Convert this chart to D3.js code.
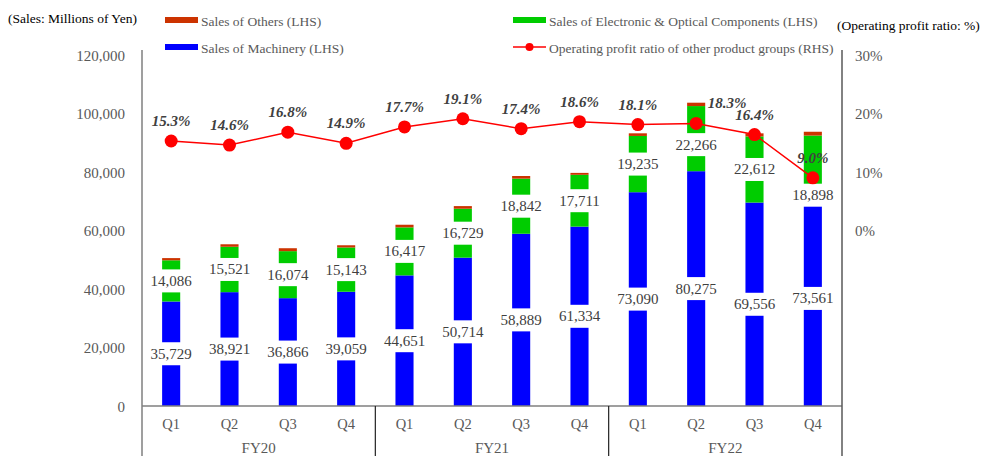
<!DOCTYPE html>
<html>
<head>
  <meta charset="utf-8">
  <style>
    body { margin: 0; background: #fff; }
    svg { display: block; font-family: "Liberation Serif", "Times New Roman", serif; }
    .tick text { fill: #595959; font-size: 15px; }
  </style>
</head>
<body>
<div id="chart"></div>
<script src="https://d3js.org/d3.v7.min.js"></script>
<script>
  // values
  const fiscalYears = ["FY20", "FY21", "FY22"];
  const quarters = ["Q1", "Q2", "Q3", "Q4"];
  const machinery = [35729, 38921, 36866, 39059, 44651, 50714, 58889, 61334, 73090, 80275, 69556, 73561];
  const electronic = [14086, 15521, 16074, 15143, 16417, 16729, 18842, 17711, 19235, 22266, 22612, 18898];
  const others = [750, 850, 1000, 750, 900, 900, 900, 650, 900, 1150, 1050, 1300];
  const profitRatio = [15.3, 14.6, 16.8, 14.9, 17.7, 19.1, 17.4, 18.6, 18.1, 18.3, 16.4, 9.0];
  const leftTicks = [0, 20000, 40000, 60000, 80000, 100000, 120000];
  const rightTicks = [0, 10, 20, 30];

  const categories = [];
  fiscalYears.forEach(fy => quarters.forEach(q => categories.push(fy + " " + q)));

  const rows = categories.map((c, i) => ({
    cat: c, machinery: machinery[i], electronic: electronic[i], others: others[i], ratio: profitRatio[i]
  }));

  const width = 985, height = 456;
  const mLeft = 142, mRight = 842, mTop = 55, mBottom = 406;
  const serif = '"Liberation Serif", "Times New Roman", serif';

  const svg = d3.select('#chart').append('svg')
    .attr('width', width)
    .attr('height', height);

  const x = d3.scaleBand()
    .domain(categories)
    .range([mLeft, mRight])
    .paddingInner(0.69)
    .paddingOuter(0.345);

  const yL = d3.scaleLinear().domain([0, 120000]).range([mBottom, mTop]);
  const yR = d3.scaleLinear().domain([-30, 30]).range([mBottom, mTop]);

  const colors = { machinery: "#0000ff", electronic: "#00cc00", others: "#cc3300" };

  // bars
  const stack = d3.stack().keys(["machinery", "electronic", "others"]);
  const series = stack(rows);

  svg.append('g')
    .selectAll('g')
    .data(series)
    .enter()
    .append('g')
    .attr('fill', d => colors[d.key])
    .selectAll('rect')
    .data(d => d)
    .enter()
    .append('rect')
    .attr('x', d => x(d.data.cat))
    .attr('width', x.bandwidth())
    .attr('y', d => yL(d[1]))
    .attr('height', d => yL(d[0]) - yL(d[1]));

  // value labels with white boxes
  const labelG = svg.append('g');
  series.slice(0, 2).forEach(s => {
    s.forEach((d, i) => {
      let cy = (yL(d[0]) + yL(d[1])) / 2;
      if (s.key === "electronic" && i === 9) cy += 6;
      if (s.key === "electronic" && i === 11) cy += 32;
      const cx = x(d.data.cat) + x.bandwidth() / 2;
      const g = labelG.append('g');
      const t = g.append('text')
        .attr('x', cx)
        .attr('y', cy)
        .attr('text-anchor', 'middle')
        .attr('dominant-baseline', 'central')
        .attr('fill', '#404040')
        .style('font-size', '15px')
        .text(d3.format(",")(d[1] - d[0]));
      const w = t.node().getComputedTextLength() + 4;
      g.insert('rect', 'text')
        .attr('x', cx - w / 2)
        .attr('y', cy - 11.5)
        .attr('width', w)
        .attr('height', 23)
        .attr('fill', '#fff');
    });
  });

  // axes
  svg.append('g')
    .attr('transform', `translate(${mLeft},0)`)
    .call(d3.axisLeft(yL).tickValues(leftTicks).tickSize(0).tickPadding(17).tickFormat(d3.format(",")))
    .attr('font-family', serif)
    .call(g => g.select('.domain').remove())
    .selectAll('text').attr('dy', '0.35em');

  svg.append('g')
    .attr('transform', `translate(${mRight},0)`)
    .call(d3.axisRight(yR).tickValues(rightTicks).tickSize(0).tickPadding(13).tickFormat(d => d + "%"))
    .attr('font-family', serif)
    .call(g => g.select('.domain').remove())
    .selectAll('text').attr('dy', '0.35em');

  svg.append('g')
    .attr('transform', `translate(0,${mBottom})`)
    .call(d3.axisBottom(x).tickSize(0).tickPadding(13).tickFormat(d => d.split(" ")[1]))
    .attr('font-family', serif)
    .call(g => g.select('.domain').remove())
    .selectAll('text').style('font-size', '14.5px');

  svg.append('line')
    .attr('x1', mLeft).attr('x2', mRight)
    .attr('y1', mBottom).attr('y2', mBottom)
    .attr('stroke', '#7f7f7f').attr('stroke-width', 1.5);

  svg.append('line')
    .attr('x1', mLeft).attr('x2', mLeft)
    .attr('y1', mTop - 5).attr('y2', height)
    .attr('stroke', '#7f7f7f').attr('stroke-width', 1.5);

  svg.append('line')
    .attr('x1', mRight).attr('x2', mRight)
    .attr('y1', mTop - 5).attr('y2', height)
    .attr('stroke', '#595959').attr('stroke-width', 1.5);

  const groupW = x.step() * quarters.length;
  fiscalYears.forEach((fy, i) => {
    if (i > 0) {
      svg.append('line')
        .attr('x1', mLeft + groupW * i).attr('x2', mLeft + groupW * i)
        .attr('y1', mBottom).attr('y2', height)
        .attr('stroke', '#222').attr('stroke-width', 1.2);
    }
    svg.append('text')
      .attr('x', mLeft + groupW * (i + 0.5))
      .attr('y', 448)
      .attr('text-anchor', 'middle')
      .attr('dominant-baseline', 'central')
      .attr('fill', '#595959')
      .style('font-size', '15px')
      .text(fy);
  });

  // profit ratio line
  const cx = d => x(d.cat) + x.bandwidth() / 2;
  const line = d3.line().x(cx).y(d => yR(d.ratio));

  svg.append('path')
    .datum(rows)
    .attr('d', line)
    .attr('fill', 'none')
    .attr('stroke', '#ff0000')
    .attr('stroke-width', 1.5);

  svg.append('g')
    .selectAll('circle')
    .data(rows)
    .enter()
    .append('circle')
    .attr('cx', cx)
    .attr('cy', d => yR(d.ratio))
    .attr('r', 6.5)
    .attr('fill', '#ff0000');

  svg.append('g')
    .selectAll('text')
    .data(rows)
    .enter()
    .append('text')
    .attr('x', (d, i) => cx(d) + (i === 9 ? 31 : 0))
    .attr('y', (d, i) => yR(d.ratio) - 20)
    .attr('text-anchor', 'middle')
    .attr('dominant-baseline', 'central')
    .attr('fill', '#404040')
    .style('font-size', '15px')
    .style('font-weight', 'bold')
    .style('font-style', 'italic')
    .text(d => d.ratio.toFixed(1) + "%");

  // titles and legend
  svg.append('text')
    .attr('x', 8).attr('y', 18)
    .attr('dominant-baseline', 'central')
    .attr('fill', '#000')
    .style('font-size', '13.5px')
    .text("(Sales: Millions of Yen)");

  svg.append('text')
    .attr('x', 837).attr('y', 25)
    .attr('dominant-baseline', 'central')
    .attr('fill', '#000')
    .style('font-size', '13.5px')
    .text("(Operating profit ratio: %)");

  const legendItems = [
    { label: "Sales of Others (LHS)", color: colors.others, type: "bar", lx: 165, ly: 20 },
    { label: "Sales of Machinery (LHS)", color: colors.machinery, type: "bar", lx: 165, ly: 47 },
    { label: "Sales of Electronic & Optical Components (LHS)", color: colors.electronic, type: "bar", lx: 513, ly: 20 },
    { label: "Operating profit ratio of other product groups (RHS)", color: "#ff0000", type: "line", lx: 513, ly: 47 }
  ];

  const legend = svg.append('g');
  legendItems.forEach(it => {
    if (it.type === "bar") {
      legend.append('rect')
        .attr('x', it.lx).attr('y', it.ly - 3)
        .attr('width', 33).attr('height', 6)
        .attr('fill', it.color);
    } else {
      legend.append('line')
        .attr('x1', it.lx).attr('x2', it.lx + 33)
        .attr('y1', it.ly).attr('y2', it.ly)
        .attr('stroke', it.color).attr('stroke-width', 1.5);
      legend.append('circle')
        .attr('cx', it.lx + 16.5).attr('cy', it.ly)
        .attr('r', 4).attr('fill', it.color);
    }
    legend.append('text')
      .attr('x', it.lx + 36).attr('y', it.ly + 1)
      .attr('dominant-baseline', 'central')
      .attr('fill', '#595959')
      .style('font-size', '13.5px')
      .text(it.label);
  });
</script>
</body>
</html>
